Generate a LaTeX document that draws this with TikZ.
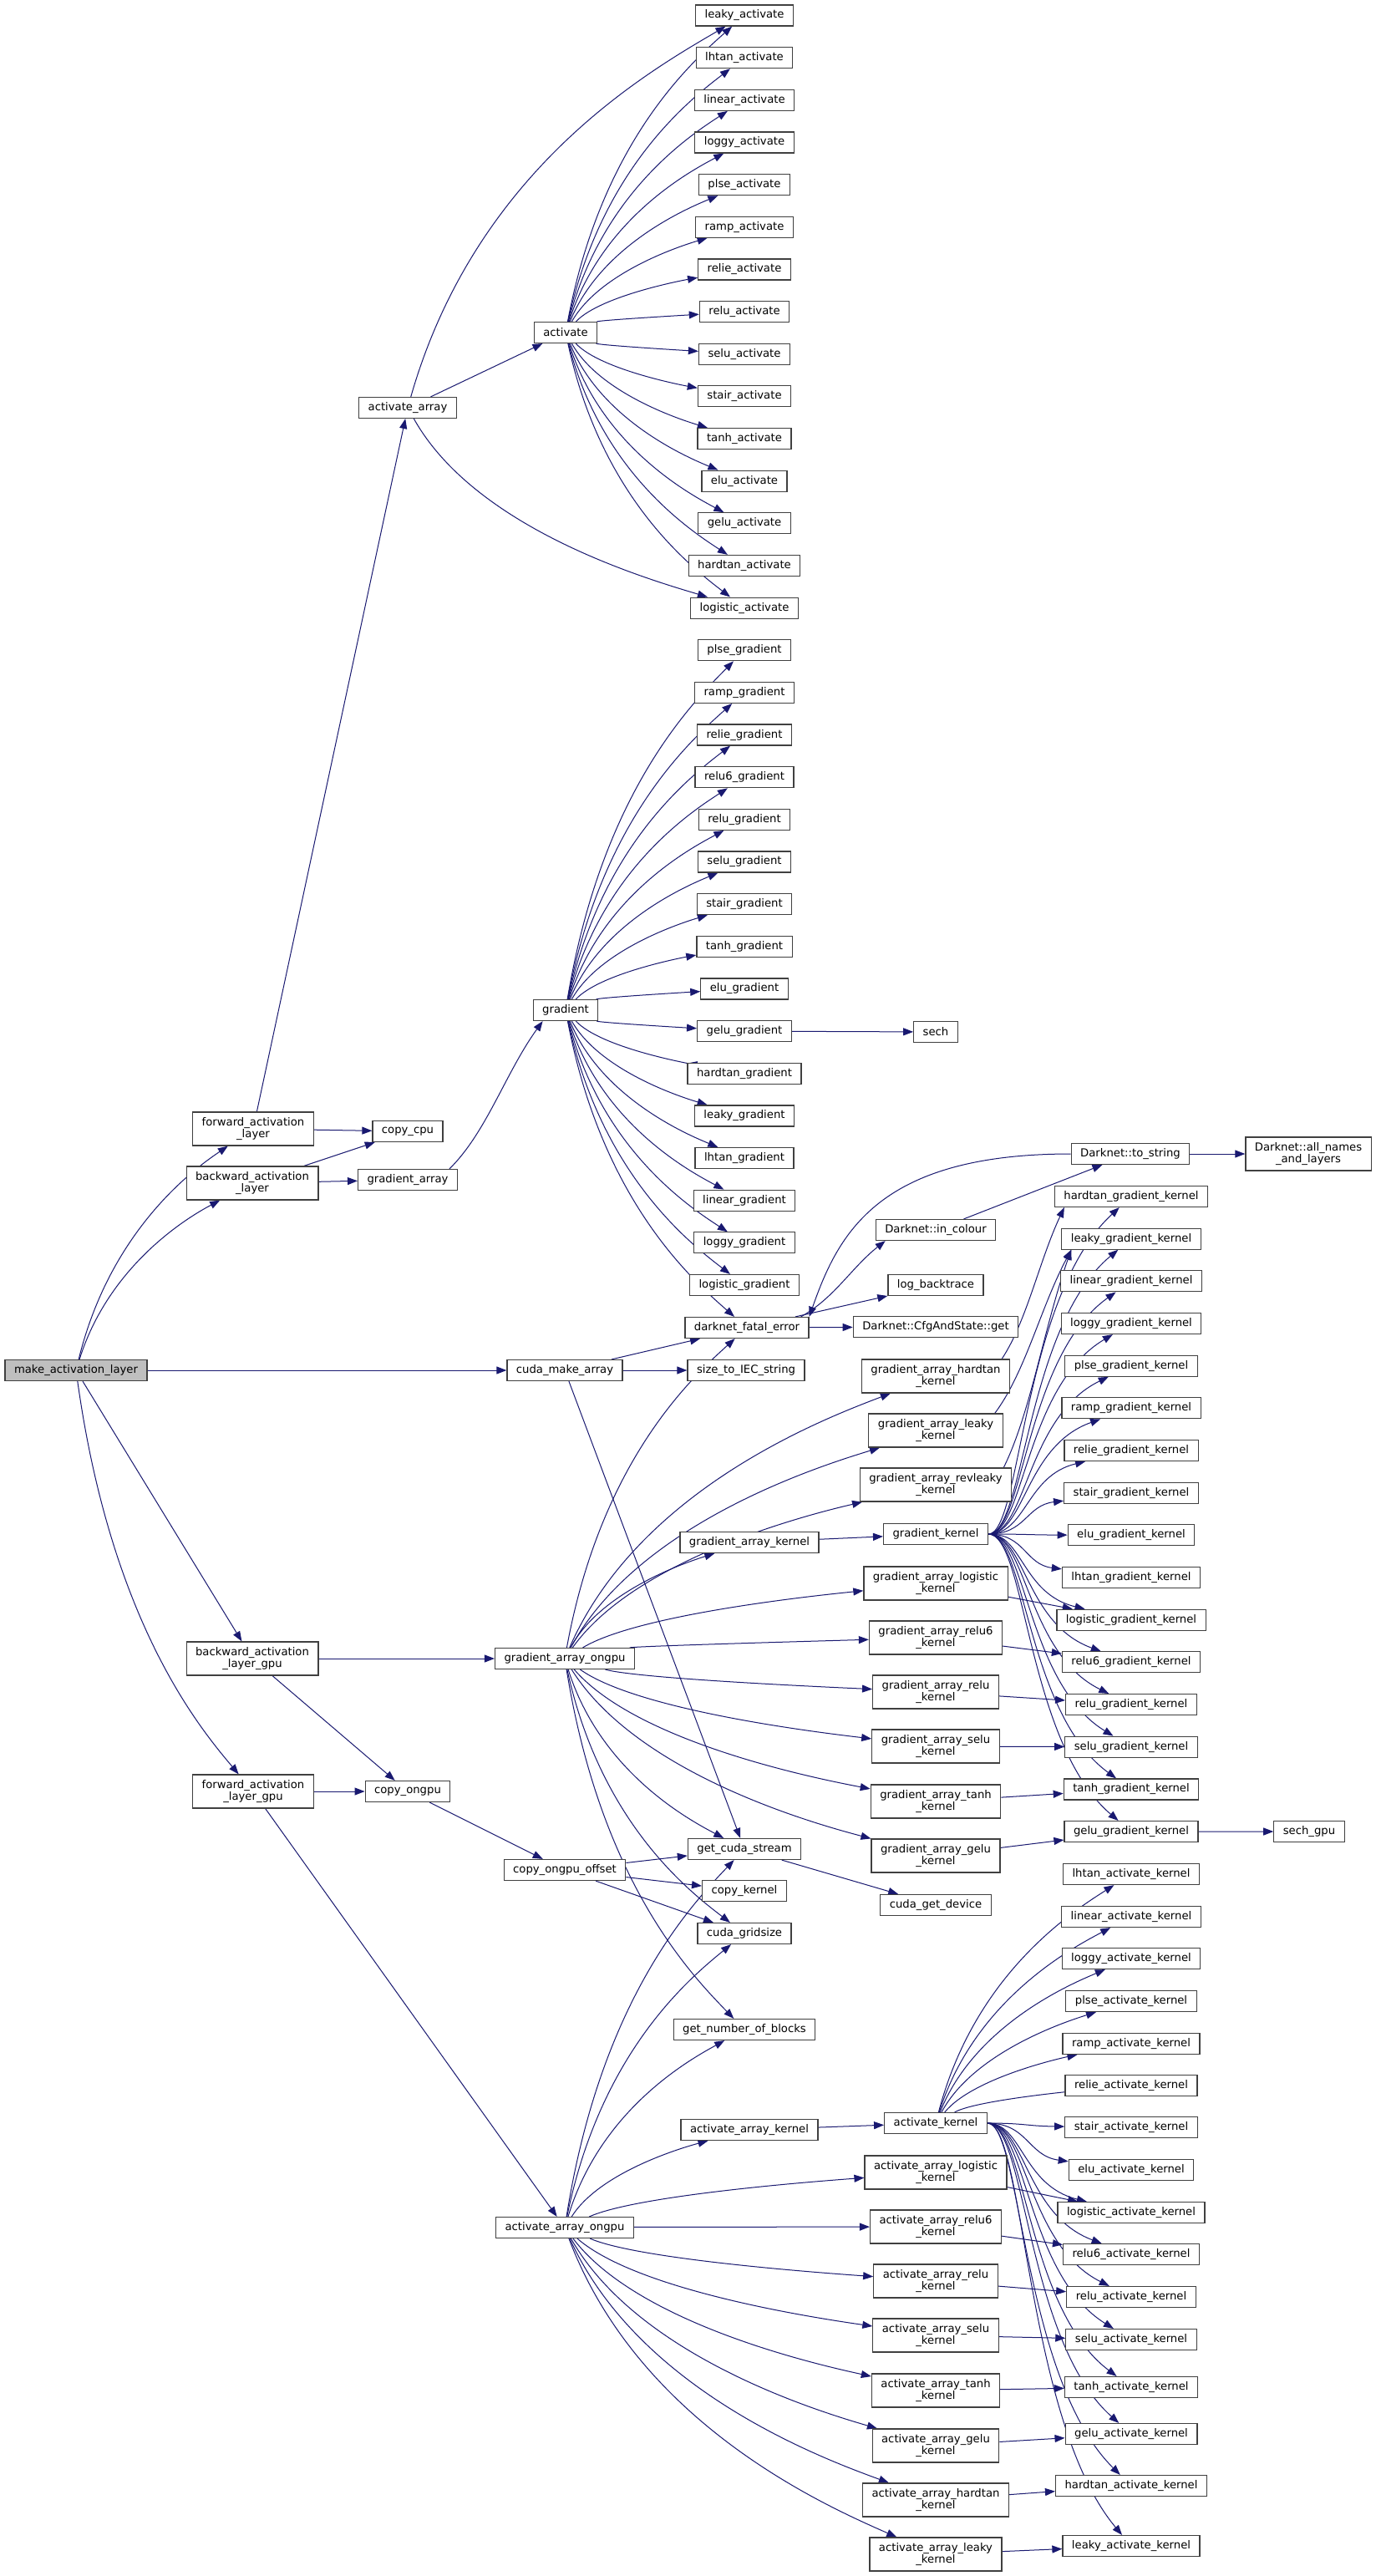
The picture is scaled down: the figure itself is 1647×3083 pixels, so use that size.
\documentclass[tikz,border=0pt]{standalone}
\usepackage{fontspec}
\setmainfont{DejaVu Sans}
\usetikzlibrary{arrows.meta,calc}
\definecolor{edgec}{HTML}{191970}
\definecolor{nodeb}{HTML}{404040}
\definecolor{rootf}{HTML}{BFBFBF}
\pgfdeclarelayer{bgl}
\pgfdeclarelayer{edl}
\pgfsetlayers{bgl,edl,main}
\tikzset{
  fn/.style={draw=nodeb, line width=0.6pt, fill=white, inner xsep=5.5pt, inner ysep=2pt,
    minimum height=12.5pt, font=\fontsize{6.6}{7.2}\selectfont},
  fntwo/.style={fn, align=center, minimum height=20pt},
  rootnode/.style={fn, fill=rootf},
  edge/.style={draw=edgec, line width=0.5pt, -{Triangle[length=6pt,width=4.5pt]}},
}
\newcommand\ecurve[2]{%
  \draw[edge] let \p1=(#1.center), \p2=(#2.center) in
    (#1) .. controls ({\x1+0.2*(\x2-\x1)},{\y1+0.6*(\y2-\y1)}) and ({\x2-0.3*(\x2-\x1)},{\y2-0.15*(\y2-\y1)}) .. (#2);}
\newcommand\eright[2]{%
  \draw[edge] let \p1=(#1.east), \p2=(#2.west) in
    (#1.east) .. controls ({\x1+0.5*(\x2-\x1)},{\y1}) and ({\x1+0.5*(\x2-\x1)},{\y2+0.3*(\y1-\y2)}) .. (#2);}
\newcommand\eup[2]{%
  \draw[edge] let \p1=([xshift=-5pt]#1.north east), \p2=([xshift=6pt]#2.south west) in
    (\p1) .. controls ({\x1+0.4*(\x2-\x1)},{\y1+0.25*(\y2-\y1)}) and ({\x1+0.6*(\x2-\x1)},{\y2-0.35*(\y2-\y1)}) .. (\p2);}
\newcommand\estraight[2]{\draw[edge] (#1) -- (#2);}
\begin{document}
\begin{tikzpicture}[x=0.5pt,y=-0.5pt]
\begin{pgfonlayer}{bgl}
\fill[white] (0,0) rectangle (1647,3083);
\end{pgfonlayer}
\useasboundingbox (0,0) rectangle (1647,3083);

% columns A-D
\node[rootnode] (make) at (91,1640) {make\_activation\_layer};
\node[fntwo] (fal) at (303,1351) {forward\_activation\\\_layer};
\node[fntwo] (bal) at (302,1416) {backward\_activation\\\_layer};
\node[fntwo] (balg) at (302,1985) {backward\_activation\\\_layer\_gpu};
\node[fntwo] (falg) at (303,2144) {forward\_activation\\\_layer\_gpu};
\node[fn] (aa) at (488,488) {activate\_array};
\node[fn] (ccpu) at (488,1354) {copy\_cpu};
\node[fn] (ga) at (488,1412) {gradient\_array};
\node[fn] (cog) at (488,2144) {copy\_ongpu};
\node[fn] (act) at (677,398) {activate};
\node[fn] (grad) at (677,1209) {gradient};
\node[fn] (cma) at (676,1640) {cuda\_make\_array};
\node[fn] (gao) at (676,1985) {gradient\_array\_ongpu};
\node[fn] (coo) at (676,2238) {copy\_ongpu\_offset};
\node[fn] (aao) at (676,2666) {activate\_array\_ongpu};

% column E
\foreach \lab [count=\i from 0] in {leaky,lhtan,linear,loggy,plse,ramp,relie,relu,selu,stair,tanh,elu,gelu,hardtan,logistic}
  \node[fn] (a\i) at (891,{18.5+50.65*\i}) {\lab\_activate};
\foreach \lab [count=\i from 0] in {plse,ramp,relie,relu6,relu,selu,stair,tanh,elu,gelu,hardtan,leaky,lhtan,linear,loggy,logistic}
  \node[fn] (g\i) at (891,{18.5+50.65*(\i+15)}) {\lab\_gradient};
\node[fn] (dfe) at (894,1589) {darknet\_fatal\_error};
\node[fn] (siec) at (893,1640) {size\_to\_IEC\_string};
\node[fn] (gak) at (897,1846) {gradient\_array\_kernel};
\node[fn] (gcs) at (891,2213) {get\_cuda\_stream};
\node[fn] (ck) at (891,2263) {copy\_kernel};
\node[fn] (cgs) at (891,2314) {cuda\_gridsize};
\node[fn] (gnb) at (891,2429) {get\_number\_of\_blocks};
\node[fn] (aak) at (897,2549) {activate\_array\_kernel};

% column F
\node[fn] (sech) at (1120,1235) {sech};
\node[fn] (ic) at (1120,1472) {Darknet::in\_colour};
\node[fn] (lb) at (1120,1538) {log\_backtrace};
\node[fn] (cfg) at (1120,1588) {Darknet::CfgAndState::get};
\node[fntwo] (gahk) at (1120,1647) {gradient\_array\_hardtan\\\_kernel};
\node[fntwo] (galk) at (1120,1712) {gradient\_array\_leaky\\\_kernel};
\node[fntwo] (garlk) at (1120,1777) {gradient\_array\_revleaky\\\_kernel};
\node[fn] (gk) at (1120,1836) {gradient\_kernel};
\node[fntwo] (galogk) at (1120,1895) {gradient\_array\_logistic\\\_kernel};
\node[fntwo] (gar6k) at (1120,1960) {gradient\_array\_relu6\\\_kernel};
\node[fntwo] (garek) at (1120,2025) {gradient\_array\_relu\\\_kernel};
\node[fntwo] (gask) at (1120,2090) {gradient\_array\_selu\\\_kernel};
\node[fntwo] (gatk) at (1120,2156) {gradient\_array\_tanh\\\_kernel};
\node[fntwo] (gagk) at (1120,2221) {gradient\_array\_gelu\\\_kernel};
\node[fn] (cgd) at (1120,2280) {cuda\_get\_device};
\node[fn] (ak) at (1120,2541) {activate\_kernel};
\node[fntwo] (aalogk) at (1120,2600) {activate\_array\_logistic\\\_kernel};
\node[fntwo] (aar6k) at (1120,2665) {activate\_array\_relu6\\\_kernel};
\node[fntwo] (aarek) at (1120,2730) {activate\_array\_relu\\\_kernel};
\node[fntwo] (aask) at (1120,2795) {activate\_array\_selu\\\_kernel};
\node[fntwo] (aatk) at (1120,2861) {activate\_array\_tanh\\\_kernel};
\node[fntwo] (aagk) at (1120,2927) {activate\_array\_gelu\\\_kernel};
\node[fntwo] (aahk) at (1120,2992) {activate\_array\_hardtan\\\_kernel};
\node[fntwo] (aalk) at (1120,3057) {activate\_array\_leaky\\\_kernel};
\node[fn] (ts) at (1353,1381) {Darknet::to\_string};

% column G
\foreach \lab [count=\i from 0] in {hardtan,leaky,linear,loggy,plse,ramp,relie,stair,elu,lhtan,logistic,relu6,relu,selu,tanh,gelu}
  \node[fn] (k\i) at (1354,{1432+50.67*\i}) {\lab\_gradient\_kernel};
\foreach \lab/\yy [count=\i from 0] in {lhtan/2243,linear/2294,loggy/2344,plse/2395,ramp/2446,relie/2496,stair/2546,elu/2597,logistic/2648,relu6/2698,relu/2749,selu/2800,tanh/2857,gelu/2913,hardtan/2975,leaky/3047}
  \node[fn] (q\i) at (1354,\yy) {\lab\_activate\_kernel};

% column H
\node[fntwo] (an) at (1566,1381) {Darknet::all\_names\\\_and\_layers};
\node[fn] (sg) at (1567,2192) {sech\_gpu};

\begin{pgfonlayer}{edl}
% make_activation_layer
\ecurve{make}{fal}
\ecurve{make}{bal}
\estraight{make}{cma}
\estraight{make}{balg}
\ecurve{make}{falg}
% cpu path
\estraight{fal}{aa}
\estraight{fal}{ccpu}
\estraight{bal}{ccpu}
\estraight{bal}{ga}
\eup{ga}{grad}
\estraight{aa}{act}
\ecurve{aa}{a0}
\ecurve{aa}{a14}
\foreach \i in {0,...,14} {\ecurve{act}{a\i}}
\foreach \i in {0,...,15} {\ecurve{grad}{g\i}}
\ecurve{grad}{dfe}
\estraight{g9}{sech}
% cuda_make_array
\estraight{cma}{dfe}
\estraight{cma}{siec}
\estraight{cma}{gcs}
% darknet_fatal_error
\eup{dfe}{ic}
\estraight{dfe}{lb}
\estraight{dfe}{cfg}
\estraight{ic}{ts}
\estraight{ts}{an}
\draw[edge] (ts.west) .. controls +(-230,0) and +(35,-100) .. (dfe.north east);
% gpu backward
\estraight{balg}{gao}
\estraight{balg}{cog}
\estraight{falg}{cog}
\estraight{falg}{aao}
\estraight{cog}{coo}
\estraight{coo}{gcs}
\estraight{coo}{ck}
\estraight{coo}{cgs}
\estraight{gcs}{cgd}
\foreach \t in {dfe,gahk,galk,garlk,gak,galogk,gar6k,garek,gask,gatk,gagk,gcs,cgs,gnb} {\ecurve{gao}{\t}}
\estraight{gak}{gk}
\foreach \i in {0,...,15} {\eright{gk}{k\i}}
\eup{gahk}{k0}
\eup{galk}{k1}
\eup{garlk}{k1}
\estraight{galogk}{k10}
\estraight{gar6k}{k11}
\estraight{garek}{k12}
\estraight{gask}{k13}
\estraight{gatk}{k14}
\estraight{gagk}{k15}
\estraight{k15}{sg}
% gpu forward
\foreach \t in {gcs,cgs,gnb,aak,aalogk,aar6k,aarek,aask,aatk,aagk,aahk,aalk} {\ecurve{aao}{\t}}
\estraight{aak}{ak}
\foreach \i in {0,...,5} {\ecurve{ak}{q\i}}
\foreach \i in {6,...,15} {\eright{ak}{q\i}}
\estraight{aalogk}{q8}
\estraight{aar6k}{q9}
\estraight{aarek}{q10}
\estraight{aask}{q11}
\estraight{aatk}{q12}
\estraight{aagk}{q13}
\estraight{aahk}{q14}
\estraight{aalk}{q15}
\end{pgfonlayer}
\end{tikzpicture}
\end{document}
